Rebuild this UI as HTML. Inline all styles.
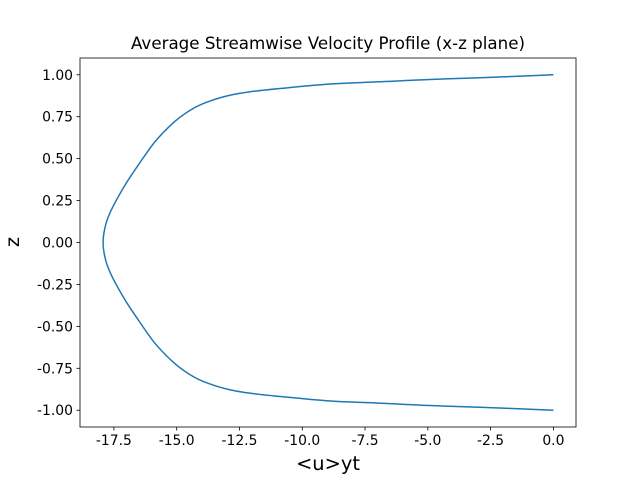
<!DOCTYPE html>
<html><head><meta charset="utf-8"><style>
body{margin:0;background:#fff;}
svg{display:block;font-family:"DejaVu Sans","Liberation Sans",sans-serif;}
</style></head><body>
<svg id="chart" width="640" height="480"></svg>
<script>
const zTop=[1.0,0.982,0.972,0.958,0.945,0.918,0.899,0.879,0.845,0.802,0.726,0.607,0.468,0.349,0.210,0.111,0.0];
const uTop=[0.0,-2.94,-4.92,-6.9,-8.89,-10.87,-12.06,-12.86,-13.65,-14.31,-15.04,-15.83,-16.5,-17.03,-17.55,-17.82,-17.93];
const zVals=zTop.concat(zTop.slice(0,-1).reverse().map(z=>-z));
const uVals=uTop.concat(uTop.slice(0,-1).reverse());
const xTicks=[-17.5,-15.0,-12.5,-10.0,-7.5,-5.0,-2.5,0.0];
const yTicks=[1.0,0.75,0.5,0.25,0.0,-0.25,-0.5,-0.75,-1.0];
const NS="http://www.w3.org/2000/svg";
const svg=document.getElementById('chart');
const L=80,R=576,T=58,B=427;
const xMin=-18.85,xMax=0.9,yMin=-1.1,yMax=1.1;
const X=v=>L+(v-xMin)/(xMax-xMin)*(R-L);
const Y=v=>B-(v-yMin)/(yMax-yMin)*(B-T);
function mk(t,a,txt){const e=document.createElementNS(NS,t);for(const k in a)e.setAttribute(k,a[k]);if(txt!==undefined)e.textContent=txt;svg.appendChild(e);return e;}
const P=uVals.map((u,i)=>[X(u),Y(zVals[i])]);
let d='M'+P[0][0].toFixed(1)+','+P[0][1].toFixed(1);
for(let i=0;i<P.length-1;i++){
  const p0=P[Math.max(0,i-1)],p1=P[i],p2=P[i+1],p3=P[Math.min(P.length-1,i+2)];
  const c1=[p1[0]+(p2[0]-p0[0])/6,p1[1]+(p2[1]-p0[1])/6];
  const c2=[p2[0]-(p3[0]-p1[0])/6,p2[1]-(p3[1]-p1[1])/6];
  d+=' C'+c1.map(v=>v.toFixed(1)).join(',')+' '+c2.map(v=>v.toFixed(1)).join(',')+' '+p2.map(v=>v.toFixed(1)).join(',');
}
const line=mk('path',{d:d,fill:'none',stroke:'#1f77b4','stroke-width':1.5,'stroke-linejoin':'round'});


const frame=mk('rect',{x:L,y:T,width:R-L,height:B-T,fill:'none',stroke:'#000','stroke-width':0.8});


xTicks.forEach(v=>{const x=X(v);
mk('line',{x1:x,x2:x,y1:B,y2:B+3.5,stroke:'#000','stroke-width':0.8});
const t=mk('text',{x:x,y:B+18,'text-anchor':'middle','font-size':13.9},v.toFixed(1));

});
yTicks.forEach(v=>{const y=Y(v);
mk('line',{x1:L-3.5,x2:L,y1:y,y2:y,stroke:'#000','stroke-width':0.8});
const t=mk('text',{x:L-7,y:y+5,'text-anchor':'end','font-size':13.9},v.toFixed(2));

});
const title=mk('text',{x:(L+R)/2,y:49,'text-anchor':'middle','font-size':16.7},'Average Streamwise Velocity Profile (x-z plane)');


const xl=mk('text',{x:(L+R)/2,y:470,'text-anchor':'middle','font-size':19.4},'<u>yt');


const yl=mk('text',{x:19,y:242,'text-anchor':'middle','font-size':19.4,transform:'rotate(-90 19 242)'},'z');


</script>
</body></html>
